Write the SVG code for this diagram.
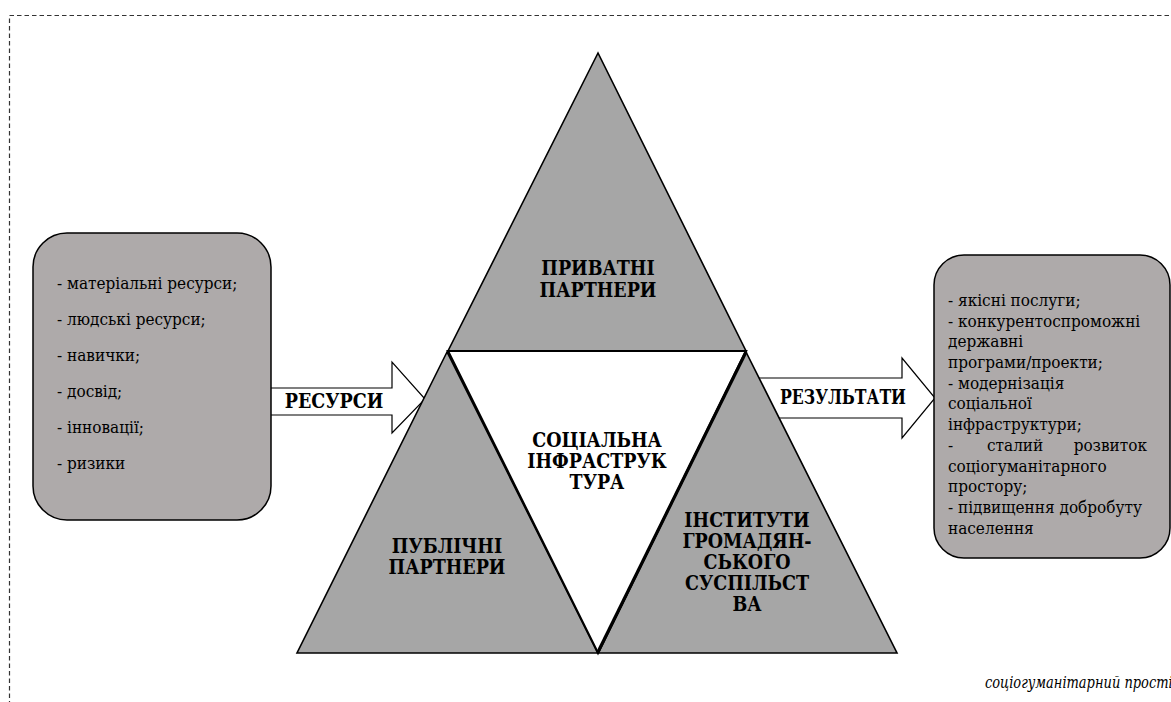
<svg xmlns="http://www.w3.org/2000/svg" width="1171" height="702" viewBox="0 0 1171 702">
<style>
.frame{fill:none;stroke:#333;stroke-width:1.2;stroke-dasharray:4.5 3}
.box{fill:#aeaaaa;stroke:#000;stroke-width:1.5}
.tri{fill:#a6a6a6;stroke:#000;stroke-width:1.6;stroke-linejoin:miter}
.core{fill:#fff;stroke:#000;stroke-width:2.2}
.arrow{fill:#fff;stroke:#000;stroke-width:1.2}
text{font-family:'DejaVu Serif',serif;font-stretch:condensed;fill:#000}
.t{font-size:17px}
.b{font-size:19.5px;font-weight:bold;text-anchor:middle}
.i{font-size:17px;font-style:italic}
</style>
<rect class="frame" x="9.5" y="15.5" width="1200" height="750"/>
<g id="connectors">
<g id="arrow-resources">
<polygon class="arrow" points="267,388 392,388 392,362 425,399 392,433 392,415 267,415"/>
<text class="b" x="334" y="408">РЕСУРСИ</text>
</g>
<g id="arrow-results">
<polygon class="arrow" points="755,378 902,378 902,358 935,398 902,438 902,418 755,418"/>
<text class="b" x="843" y="404" textLength="126" lengthAdjust="spacingAndGlyphs">РЕЗУЛЬТАТИ</text>
</g>
</g>
<g id="resources-box">
<rect class="box" x="33" y="233" width="238" height="287" rx="34" ry="34"/>
<text class="t" x="57" y="289">- матеріальні ресурси;</text>
<text class="t" x="57" y="325">- людські ресурси;</text>
<text class="t" x="57" y="361">- навички;</text>
<text class="t" x="57" y="397">- досвід;</text>
<text class="t" x="57" y="433">- інновації;</text>
<text class="t" x="57" y="469">- ризики</text>
</g>
<g id="results-box">
<rect class="box" x="934" y="255" width="236" height="303" rx="30" ry="30"/>
<text class="t" x="948" y="306">- якісні послуги;</text>
<text class="t" x="948" y="327">- конкурентоспроможні</text>
<text class="t" x="948" y="347">державні</text>
<text class="t" x="948" y="368">програми/проекти;</text>
<text class="t" x="948" y="389">- модернізація</text>
<text class="t" x="948" y="409">соціальної</text>
<text class="t" x="948" y="430">інфраструктури;</text>
<text class="t" x="948" y="451">-</text>
<text class="t" x="987" y="451">сталий</text>
<text class="t" x="1147" y="451" text-anchor="end">розвиток</text>
<text class="t" x="948" y="472">соціогуманітарного</text>
<text class="t" x="948" y="492">простору;</text>
<text class="t" x="948" y="513">- підвищення добробуту</text>
<text class="t" x="948" y="534">населення</text>
</g>
<g id="private-partners">
<polygon class="tri" points="598,53 448,351 746,351"/>
<text class="b" x="598" y="275">ПРИВАТНІ</text>
<text class="b" x="598" y="297">ПАРТНЕРИ</text>
</g>
<g id="public-partners">
<polygon class="tri" points="447,352 297,653 598,653"/>
<text class="b" x="447" y="553">ПУБЛІЧНІ</text>
<text class="b" x="447" y="574">ПАРТНЕРИ</text>
</g>
<g id="civil-institutions">
<polygon class="tri" points="746,352 598,653 897,653"/>
<text class="b" x="747" y="527">ІНСТИТУТИ</text>
<text class="b" x="747" y="548">ГРОМАДЯН-</text>
<text class="b" x="747" y="569">СЬКОГО</text>
<text class="b" x="747" y="590">СУСПІЛЬСТ</text>
<text class="b" x="747" y="611">ВА</text>
</g>
<g id="social-infrastructure">
<polygon class="core" points="448,351 746,351 598,653"/>
<line x1="746" y1="352" x2="598" y2="652" stroke="#000" stroke-width="3.2"/>
<text class="b" x="597" y="447">СОЦІАЛЬНА</text>
<text class="b" x="597" y="468">ІНФРАСТРУК</text>
<text class="b" x="597" y="489">ТУРА</text>
</g>
<text class="i" x="985" y="688" textLength="196" lengthAdjust="spacingAndGlyphs">соціогуманітарний простір</text>
</svg>
